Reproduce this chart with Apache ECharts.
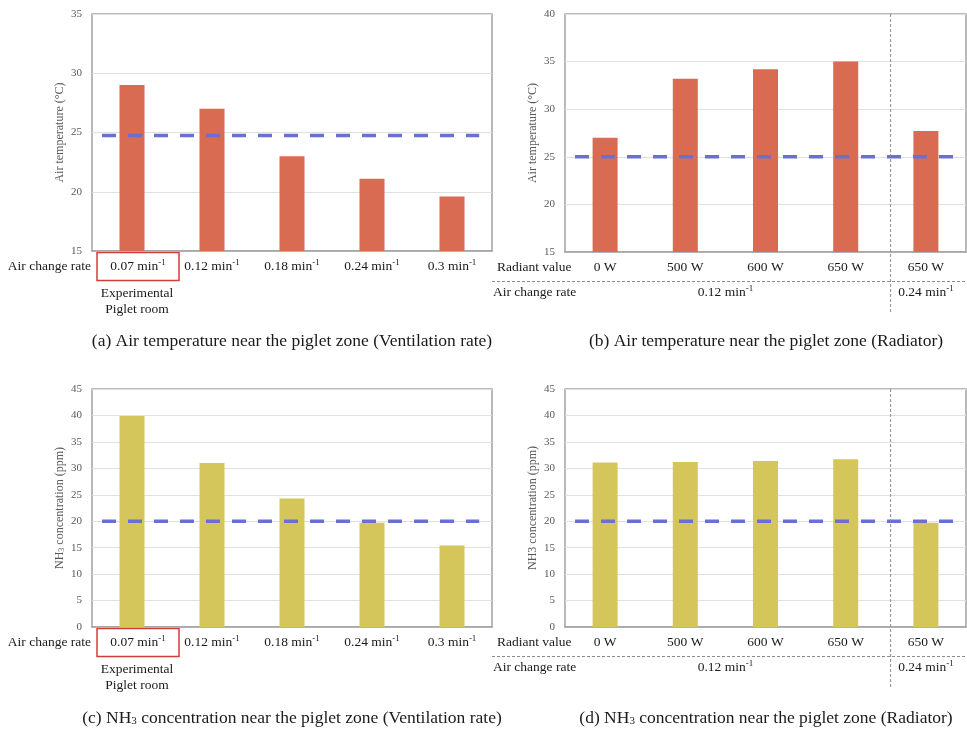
<!DOCTYPE html>
<html>
<head>
<meta charset="utf-8">
<script src="https://cdn.jsdelivr.net/npm/echarts@6/dist/echarts.min.js"></script>
<style>
  html, body { margin: 0; padding: 0; background: #ffffff; }
  #chart { width: 967px; height: 729px; }
</style>
</head>
<body>
<div id="chart"></div>
<script>
// Air change rates (min^-1) tested in the ventilation-rate runs
const ventRates = ['0.07', '0.12', '0.18', '0.24', '0.3'];
// Radiator output for the radiator runs, and the air change rate each group ran at
const radiantValues = ['0 W', '500 W', '600 W', '650 W', '650 W'];
const radiatorRateGroups = [
  { rate: '0.12', from: 0, to: 3 },
  { rate: '0.24', from: 4, to: 4 }
];

// Air temperature near the piglet zone (°C)
const tempVent = [29.0, 27.0, 23.0, 21.1, 19.6];
const tempRad = [27.0, 33.2, 34.2, 35.0, 27.7];
// NH3 concentration near the piglet zone (ppm)
const nh3Vent = [39.9, 31.0, 24.3, 19.7, 15.4];
const nh3Rad = [31.1, 31.2, 31.4, 31.7, 19.7];

// Reference levels drawn as dashed lines
const tempLimitVent = 24.75;
const tempLimitRad = 25;
const nh3Limit = 20;

// Value-axis ranges
const tempVentAxis = { min: 15, max: 35, interval: 5 };
const tempRadAxis = { min: 15, max: 40, interval: 5 };
const nh3Axis = { min: 0, max: 45, interval: 5 };

const FONT = '"Liberation Serif", "Times New Roman", serif';
const ORANGE = '#D96B52';
const YELLOW = '#D4C65A';
const LIMIT_BLUE = '#6A70D0';
const FRAME = '#a3a3a3';
const TEXT = '#1a1a1a';
const AXIS_TEXT = '#595959';
const TABLE_FONT_SIZE = 13.5;

const panels = [
  {
    grid: { left: 92, top: 14, width: 400, height: 237 },
    kind: 'vent', values: tempVent, limit: tempLimitVent, axis: tempVentAxis, color: ORANGE,
    yName: 'Air temperature (°C)',
    caption: '(a) Air temperature near the piglet zone (Ventilation rate)', captionX: 292, captionY: 341
  },
  {
    grid: { left: 565, top: 14, width: 401, height: 238 },
    kind: 'rad', values: tempRad, limit: tempLimitRad, axis: tempRadAxis, color: ORANGE,
    yName: 'Air temperature (°C)',
    caption: '(b) Air temperature near the piglet zone (Radiator)', captionX: 766, captionY: 341
  },
  {
    grid: { left: 92, top: 389, width: 400, height: 238 },
    kind: 'vent', values: nh3Vent, limit: nh3Limit, axis: nh3Axis, color: YELLOW,
    yName: 'NH{sub|3} concentration (ppm)',
    caption: '(c) NH{sub|3} concentration near the piglet zone (Ventilation rate)', captionX: 292, captionY: 718
  },
  {
    grid: { left: 565, top: 389, width: 401, height: 238 },
    kind: 'rad', values: nh3Rad, limit: nh3Limit, axis: nh3Axis, color: YELLOW,
    yName: 'NH3 concentration (ppm)',
    caption: '(d) NH{sub|3} concentration near the piglet zone (Radiator)', captionX: 766, captionY: 718
  }
];

const rateRich = {
  n: { fontFamily: FONT, fontSize: TABLE_FONT_SIZE, color: TEXT, lineHeight: 16 },
  n0: { fontFamily: FONT, fontSize: TABLE_FONT_SIZE, color: TEXT, lineHeight: 16, padding: [0, 0, 0, 12] },
  s: { fontFamily: FONT, fontSize: 9, color: TEXT, lineHeight: 8, verticalAlign: 'top' }
};

const grids = [], xAxes = [], yAxes = [], series = [], graphics = [];

panels.forEach((p, i) => {
  grids.push(Object.assign({
    show: true, borderColor: FRAME, borderWidth: 1.5, backgroundColor: 'transparent'
  }, p.grid));

  const cats = p.kind === 'vent' ? ventRates : radiantValues.map((_, k) => 'r' + k);
  xAxes.push({
    type: 'category', gridIndex: i, data: cats,
    axisLine: { show: true, lineStyle: { color: FRAME, width: 1.5 } },
    axisTick: { show: false },
    splitLine: { show: false },
    axisLabel: {
      interval: 0, margin: 7,
      formatter: p.kind === 'vent'
        ? (v, idx) => `{${idx === 0 ? 'n0' : 'n'}|${v} min}{s|-1}`
        : (v, idx) => `{n|${radiantValues[idx]}}`,
      rich: rateRich
    }
  });

  yAxes.push({
    type: 'value', gridIndex: i,
    min: p.axis.min, max: p.axis.max, interval: p.axis.interval,
    axisLine: { show: false }, axisTick: { show: false },
    splitLine: { show: true, lineStyle: { color: '#e0e0e0', width: 1 } },
    axisLabel: { fontFamily: FONT, fontSize: 11, color: AXIS_TEXT, margin: 10 },
    name: p.yName, nameLocation: 'middle', nameRotate: 90, nameGap: 26,
    nameTextStyle: {
      fontFamily: FONT, fontSize: 12, color: AXIS_TEXT,
      rich: { sub: { fontFamily: FONT, fontSize: 8, color: AXIS_TEXT, verticalAlign: 'bottom', lineHeight: 9 } }
    }
  });

  series.push({
    type: 'bar', xAxisIndex: i, yAxisIndex: i,
    data: p.values, barWidth: 25,
    itemStyle: { color: p.color },
    silent: true
  });
});

// Hidden 0..1 axes that carry the dashed reference lines across each plot
panels.forEach((p, i) => {
  xAxes.push({ type: 'value', gridIndex: i, min: 0, max: 1, show: false });
  series.push({
    type: 'line', xAxisIndex: panels.length + i, yAxisIndex: i,
    data: [[0.025, p.limit], [0.968, p.limit]],
    symbol: 'none', silent: true, z: 5,
    lineStyle: { color: LIMIT_BLUE, width: 3.5, type: [14, 12] }
  });
});

// Row headers, group labels and captions below each plot
const tableText = (text, x, y, align, extra) => ({
  type: 'text', x, y, silent: true,
  style: Object.assign({
    text, fontFamily: FONT, fontSize: TABLE_FONT_SIZE, fill: TEXT,
    align: align, verticalAlign: 'middle', rich: rateRich
  }, extra || {})
});

panels.forEach((p) => {
  const g = p.grid;
  const B = g.top + g.height;
  const center = (k) => g.left + g.width * (k + 0.5) / 5;

  if (p.kind === 'vent') {
    graphics.push(tableText('Air change rate', g.left - 1, B + 15, 'right'));
    graphics.push({
      type: 'rect', silent: true,
      shape: { x: g.left + 5, y: B + 1.5, width: 82, height: 28 },
      style: { fill: 'none', stroke: '#d23c3c', lineWidth: 1.5 }
    });
    graphics.push(tableText('Experimental\nPiglet room', g.left + 45, B + 50, 'center', { lineHeight: 16 }));
  } else {
    graphics.push(tableText('Radiant value', g.left - 68, B + 15, 'left'));
    graphics.push(tableText('Air change rate', g.left - 72, B + 40, 'left'));
    graphics.push({
      type: 'line', silent: true,
      shape: { x1: g.left - 73, y1: B + 29.5, x2: 967, y2: B + 29.5 },
      style: { stroke: '#8c8c8c', lineWidth: 1, lineDash: [3, 2] }
    });
    const sepX = g.left + g.width * 0.812;
    graphics.push({
      type: 'line', silent: true, z: 10,
      shape: { x1: sepX, y1: g.top, x2: sepX, y2: B + 61 },
      style: { stroke: '#8c8c8c', lineWidth: 1, lineDash: [3, 2] }
    });
    radiatorRateGroups.forEach((grp) => {
      const cx = (center(grp.from) + center(grp.to)) / 2;
      graphics.push(tableText(`{n|${grp.rate} min}{s|-1}`, cx, B + 40, 'center'));
    });
  }

  graphics.push({
    type: 'text', x: p.captionX, y: p.captionY, silent: true,
    style: {
      text: p.caption, fontFamily: FONT, fontSize: 17.5, fill: TEXT,
      align: 'center', verticalAlign: 'middle',
      rich: { sub: { fontFamily: FONT, fontSize: 11, fill: TEXT, verticalAlign: 'bottom', lineHeight: 12 } }
    }
  });
});

const chart = echarts.init(document.getElementById('chart'), null, { renderer: 'canvas' });
chart.setOption({
  animation: false,
  backgroundColor: '#ffffff',
  textStyle: { fontFamily: FONT },
  grid: grids,
  xAxis: xAxes,
  yAxis: yAxes,
  series: series,
  graphic: graphics
});
</script>
</body>
</html>
